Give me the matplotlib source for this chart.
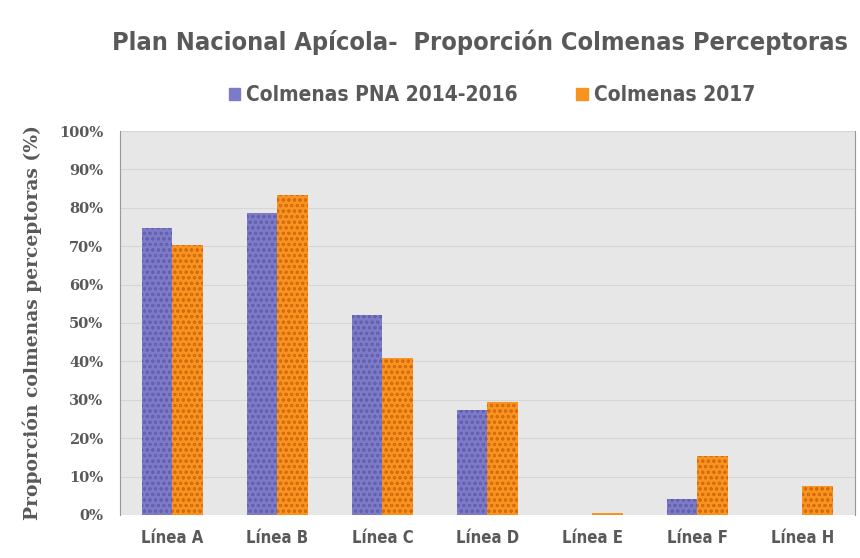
import numpy as np
import matplotlib
matplotlib.use("Agg")
import matplotlib.pyplot as plt
from matplotlib.patches import Patch

categories = ["Línea A", "Línea B", "Línea C", "Línea D", "Línea E", "Línea F", "Línea H"]
pna_2014_2016 = [74.7, 78.6, 52.1, 27.3, 0.0, 4.2, 0.0]
colmenas_2017 = [70.3, 83.3, 40.9, 29.4, 0.6, 15.4, 7.6]
yticks = [0, 10, 20, 30, 40, 50, 60, 70, 80, 90, 100]

BLUE = "#7d7bc8"
BLUE_DARK = "#6361ad"
ORANGE = "#f7941f"
ORANGE_DARK = "#d8690e"
TEXT = "#595959"

plt.rcParams["hatch.linewidth"] = 0.7

fig = plt.figure(figsize=(8.6, 5.58), dpi=100)
ax = fig.add_axes([0.1395, 0.0771, 0.8545, 0.6881])
ax.set_facecolor("#e7e7e7")

x = np.arange(len(categories))
w = 0.29
ax.bar(x - w / 2, pna_2014_2016, w, color=BLUE, edgecolor=BLUE_DARK, hatch="ooo", linewidth=0, zorder=3)
ax.bar(x + w / 2, colmenas_2017, w, color=ORANGE, edgecolor=ORANGE_DARK, hatch="ooo", linewidth=0, zorder=3)

ax.set_xlim(-0.5, len(categories) - 0.5)
ax.set_ylim(0, 100)
ax.set_yticks(yticks)
ax.set_yticklabels([f"{t}%" for t in yticks], fontfamily="DejaVu Serif", fontweight="bold",
                   fontsize=10.5, color=TEXT)
ax.set_xticks(x)
ax.set_xticklabels(categories, fontfamily="DejaVu Sans", fontstretch="condensed",
                   fontweight="bold", fontsize=12, color=TEXT)
ax.tick_params(length=0, pad=12)
ax.tick_params(axis="x", pad=10)
ax.grid(axis="y", color="#d6d6d6", linewidth=0.8, zorder=0)
for s in ["left", "right", "top"]:
    ax.spines[s].set_color("#9a9a9a")
    ax.spines[s].set_linewidth(0.8)
ax.spines["bottom"].set_visible(False)
ax.spines["top"].set_visible(False)

ax.set_ylabel("Proporción colmenas perceptoras (%)", fontfamily="DejaVu Serif",
              fontweight="bold", fontsize=13.5, color=TEXT, labelpad=12)

fig.text(0.558, 0.925, "Plan Nacional Apícola-  Proporción Colmenas Perceptoras",
         ha="center", va="center", fontfamily="DejaVu Sans", fontstretch="condensed",
         fontweight="bold", fontsize=18.2, color=TEXT)

handles = [Patch(facecolor=BLUE, edgecolor=BLUE), Patch(facecolor=ORANGE, edgecolor=ORANGE)]
fig.legend(handles, ["Colmenas PNA 2014-2016", "Colmenas 2017"], loc="center",
           bbox_to_anchor=(0.572, 0.829), ncol=2, frameon=False, handlelength=0.55,
           handleheight=0.55, handletextpad=0.3, columnspacing=2.8,
           prop={"family": "DejaVu Sans", "stretch": "condensed", "weight": "bold", "size": 15},
           labelcolor=TEXT)

fig.savefig("out.png", dpi=100, facecolor="white")
